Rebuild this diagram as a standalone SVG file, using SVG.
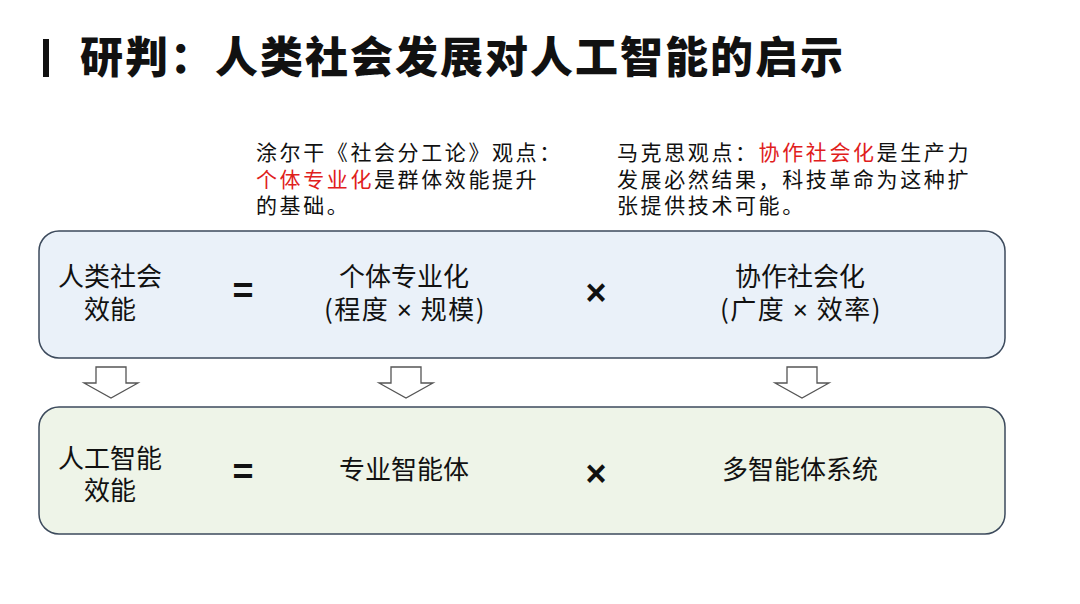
<svg xmlns="http://www.w3.org/2000/svg" width="1080" height="604" viewBox="0 0 1080 604">
<style>
.t{font-family:"Noto Sans CJK SC","Noto Sans",sans-serif;fill:#111}
.title{font-size:43px;font-weight:900;letter-spacing:2px}
.note{font-size:21px;letter-spacing:2.6px}
.red{fill:#e0201c}
.lbl{font-size:26px;text-anchor:middle}
.sp{letter-spacing:1.5px}
.x{font-family:"Liberation Sans",sans-serif}
.op{font-size:36px;font-weight:bold;text-anchor:middle;font-family:"Liberation Sans","Noto Sans",sans-serif;fill:#111}
.box{stroke:#3c4a5c;stroke-width:1.5}
.arrow{fill:#fff;stroke:#555;stroke-width:1.3;stroke-linejoin:miter}
</style>
<defs>
<path id="dn" d="M-15,0 H15 V16 H27 L0,31 L-27,16 H-15 Z"/>
</defs>
<rect width="1080" height="604" fill="#fff"/>
<g id="title">
<rect x="43" y="39" width="6" height="38" fill="#111"/>
<text class="t title" x="80" y="73">研判：人类社会发展对人工智能的启示</text>
</g>
<g id="note-durkheim">
<text class="t note" x="256" y="160">涂尔干《社会分工论》观点：</text>
<text class="t note" x="256" y="187"><tspan class="red">个体专业化</tspan>是群体效能提升</text>
<text class="t note" x="256" y="213">的基础。</text>
</g>
<g id="note-marx">
<text class="t note" x="617" y="160">马克思观点：<tspan class="red">协作社会化</tspan>是生产力</text>
<text class="t note" x="617" y="187">发展必然结果，科技革命为这种扩</text>
<text class="t note" x="617" y="213">张提供技术可能。</text>
</g>
<g id="human-box">
<rect class="box" x="39" y="231" width="966" height="127" rx="20" fill="#eaf1f9"/>
<text class="t lbl" x="110" y="286">人类社会</text>
<text class="t lbl" x="110" y="319">效能</text>
<text class="op" x="243" y="303">=</text>
<text class="t lbl" x="404" y="286">个体专业化</text>
<text class="t lbl sp" x="405" y="319">(程度 <tspan class="x">×</tspan> 规模)</text>
<text class="op" x="596" y="305">×</text>
<text class="t lbl" x="800" y="286">协作社会化</text>
<text class="t lbl sp" x="801" y="319">(广度 <tspan class="x">×</tspan> 效率)</text>
</g>
<g id="connectors">
<use href="#dn" class="arrow" x="111" y="367"/>
<use href="#dn" class="arrow" x="406" y="367"/>
<use href="#dn" class="arrow" x="802" y="367"/>
</g>
<g id="ai-box">
<rect class="box" x="39" y="407" width="966" height="127" rx="20" fill="#eef4e8"/>
<text class="t lbl" x="110" y="468">人工智能</text>
<text class="t lbl" x="110" y="500">效能</text>
<text class="op" x="243" y="484">=</text>
<text class="t lbl" x="404" y="479">专业智能体</text>
<text class="op" x="596" y="486">×</text>
<text class="t lbl" x="800" y="479">多智能体系统</text>
</g>
</svg>
